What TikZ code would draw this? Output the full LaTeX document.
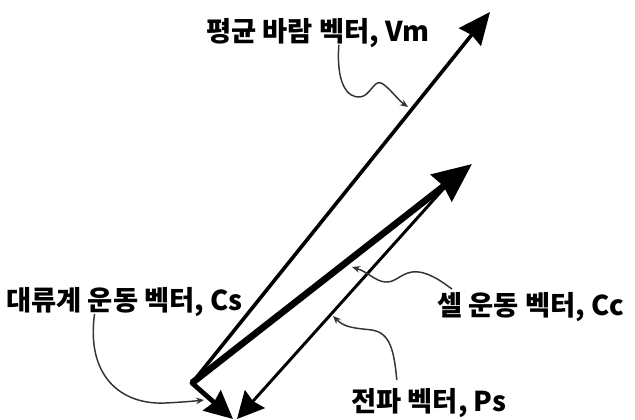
\documentclass[tikz,border=0pt]{standalone}
\usepackage{fontspec}
\newfontfamily\krfont{Noto Sans CJK KR}
\usepackage{tikz}
\usetikzlibrary{positioning, arrows.meta, calc}
\definecolor{inkP}{HTML}{000000}
\definecolor{inkM}{HTML}{333333}

\begin{document}
\begin{tikzpicture}[x=0.75pt, y=-0.75pt,
  vecline/.style={draw=inkP, line width=2.7pt, -{Stealth[length=24pt, width=21pt, inset=2pt]}},
  leader/.style={draw=inkM, line width=1.1pt, -{Stealth[length=6pt, width=5pt]}},
  lbl/.style={font=\krfont\bfseries\fontsize{20.5}{24}\selectfont, text=inkP, inner sep=0pt, anchor=west}]
\useasboundingbox (0,0) rectangle (635,420);
% vector end points
\coordinate (O) at (192,383);
\coordinate (vmtip) at (490,12);
\coordinate (cctip) at (472,164);
\coordinate (cstip) at (233,419);
\coordinate (psstart) at (446,186);
\coordinate (pstip) at (237,419);
% vectors
\draw[vecline] (O) -- (vmtip);
\draw[vecline, line width=2.2pt, -{Stealth[length=20pt, width=20pt, inset=2pt]}] (psstart) -- (pstip);
\draw[vecline, line width=5pt, -{Stealth[length=29pt, width=25pt, inset=2pt]}] (O) -- (cctip);
\draw[vecline, line width=3.6pt, line cap=round, -{Stealth[length=21pt, width=20pt, inset=2pt]}] (O) -- (cstip);
% labels
\node[lbl] (vmlbl) at (206,33) {평균 바람 벡터, Vm};
\node[lbl] (cslbl) at (6,302) {대류계 운동 벡터, Cs};
\node[lbl] (cclbl) at (437,307) {셀 운동 벡터, Cc};
\node[lbl] (pslbl) at (351,403) {전파 벡터, Ps};
% leader ends
\coordinate (vmpt) at (408,107);
\coordinate (cspt) at (204,400);
\coordinate (ccpt) at (352,267);
\coordinate (pspt) at (333,316);
% leaders
\draw[leader] ($(vmlbl.south)+(21,-3)$) .. controls (336,85) and (348,98) .. (360,97)
  .. controls (370,96) and (374,80) .. (381,83) .. controls (388,86) and (398,100) .. (vmpt);
\draw[leader] ($(cslbl.south)+(-30,-3)$) .. controls (86,375) and (120,405) .. (165,403)
  .. controls (185,402) and (195,401) .. (cspt);
\draw[leader] ($(cclbl.north west)+(15,-3)$) .. controls (440,280) and (425,270) .. (412,272)
  .. controls (400,274) and (395,283) .. (385,282) .. controls (375,281) and (368,272) .. (ccpt);
\draw[leader] ($(pslbl.north)+(-32,-8)$) .. controls (394,350) and (390,333) .. (372,330)
  .. controls (355,328) and (345,328) .. (pspt);
\end{tikzpicture}
\end{document}
